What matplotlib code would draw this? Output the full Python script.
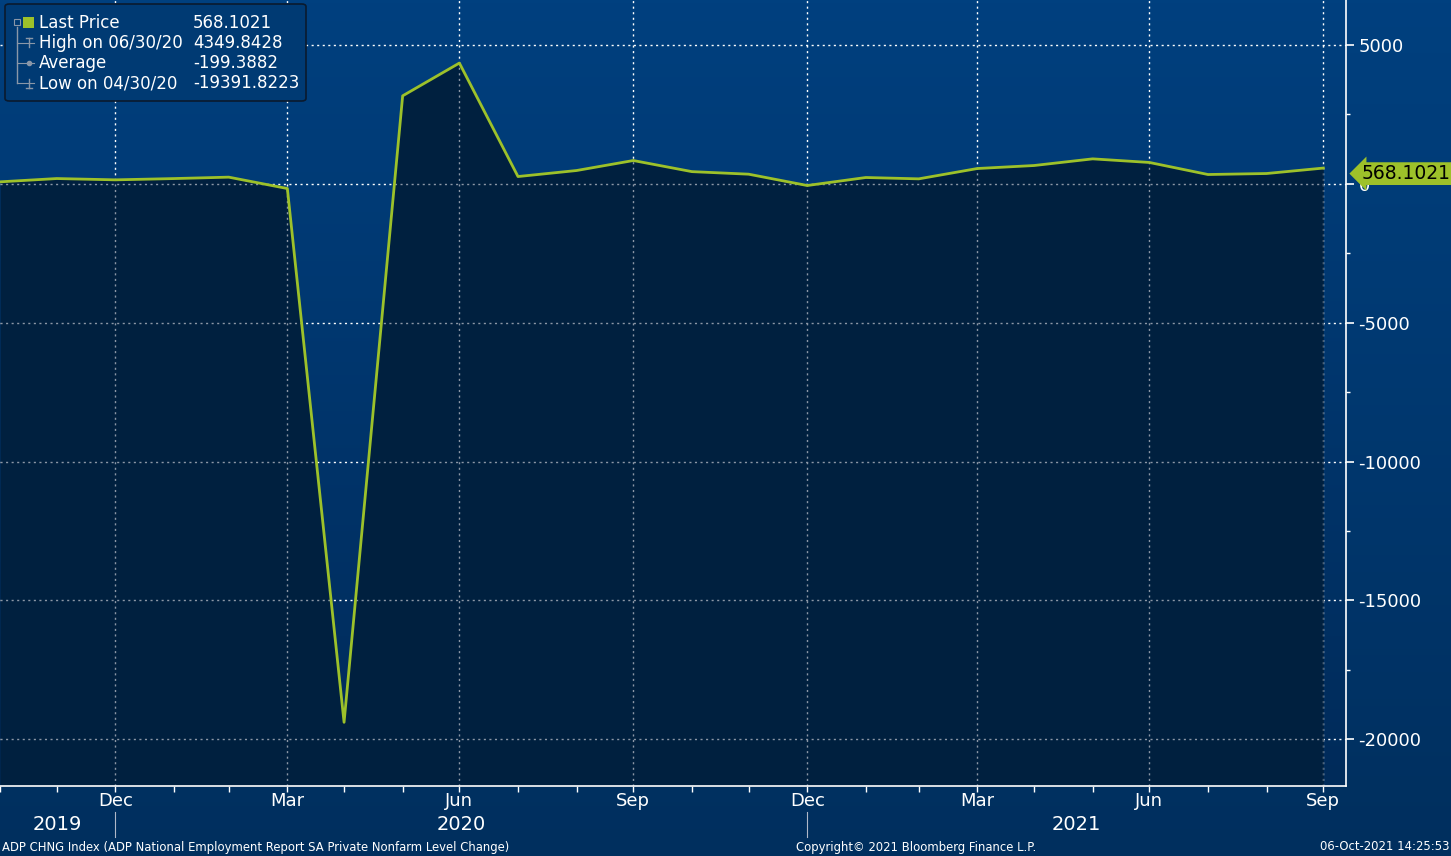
import numpy as np
import pandas as pd
import matplotlib
matplotlib.use("Agg")
import matplotlib.pyplot as plt
import matplotlib.dates as mdates
import matplotlib.transforms as mtransforms
from matplotlib.colors import LinearSegmentedColormap
from matplotlib.patches import FancyBboxPatch
from matplotlib.lines import Line2D
from matplotlib.ticker import MultipleLocator

plt.rcParams['font.family'] = ['DejaVu Sans']
plt.rcParams['axes.unicode_minus'] = False

# --- DATA (ADP CHNG, thousands, month-end) ---
months = pd.date_range("2019-10-31", "2021-09-30", freq="ME")
values = [72, 191, 144, 190, 241, -169, -19392, 3170, 4350, 263, 480, 840,
          440, 348, -60, 228, 180, 552, 660, 900, 770, 336, 372, 568.1021]
legend_names = ["Last Price", "High on 06/30/20", "Average", "Low on 04/30/20"]
legend_values = ["568.1021", "4349.8428", "-199.3882", "-19391.8223"]
y_ticks = [-20000, -15000, -10000, -5000, 0, 5000]
footer_left = "ADP CHNG Index (ADP National Employment Report SA Private Nonfarm Level Change)"
footer_mid = "Copyright\u00a9 2021 Bloomberg Finance L.P."
footer_right = "06-Oct-2021 14:25:53"

# --- COLOURS ---
BG_TOP = "#00407f"
BG_BOT = "#002b5a"
FIG_BOT = "#002f5e"
FILL = "#00203f"
LINE = "#9dc12a"

W, H = 1451, 856
fig = plt.figure(figsize=(W / 100, H / 100), dpi=100, facecolor=FIG_BOT)

def fx(px):
    return px / W

def fy(py):
    return 1 - py / H

grad = np.linspace(1, 0, 256).reshape(-1, 1)

# figure background gradient
bg_ax = fig.add_axes([0, 0, 1, 1], zorder=-10)
bg_ax.imshow(grad, aspect="auto", extent=[0, 1, 0, 1],
             cmap=LinearSegmentedColormap.from_list("figbg", [FIG_BOT, BG_TOP]))
bg_ax.set_axis_off()

ax = fig.add_axes([0, fy(786), fx(1346), 786 / H])
ax.patch.set_alpha(0)

x_left = pd.Timestamp("2019-10-31")
x_right = pd.Timestamp("2021-10-12")
y_min, y_max = -21686, 6621

ax.imshow(grad, aspect="auto", extent=[0, 1, 0, 1], transform=ax.transAxes, zorder=0,
          cmap=LinearSegmentedColormap.from_list("axbg", [BG_BOT, BG_TOP]))
ax.set_xlim(x_left, x_right)
ax.set_ylim(y_min, y_max)

# x axis months
ax.xaxis.set_major_locator(mdates.MonthLocator(bymonth=[3, 6, 9, 12], bymonthday=-1))
ax.xaxis.set_major_formatter(mdates.DateFormatter("%b"))
ax.xaxis.set_minor_locator(mdates.MonthLocator(bymonthday=-1))
ax.tick_params(axis="x", which="both", colors="white", length=4, width=1, direction="out")
ax.tick_params(axis="x", which="major", labelsize=13, pad=0)

# y axis on right
ax.yaxis.tick_right()
ax.set_yticks(y_ticks)
ax.set_yticklabels([str(v) for v in y_ticks])
ax.yaxis.set_minor_locator(MultipleLocator(2500))
ax.tick_params(axis="y", which="major", colors="white", labelsize=13, length=6, width=1.2, pad=3)
ax.tick_params(axis="y", which="minor", colors="white", length=3, width=1)

# grid under the fill (white), dimmer copy over the fill
ax.set_axisbelow(True)
ax.grid(True, which="major", color="white", linestyle=(0, (1.5, 2.5)), linewidth=1)

fill = ax.fill_between(months, values, y_min, color=FILL, linewidth=0, zorder=1)
fill_path = fill.get_paths()[0]
for yv in y_ticks:
    gl = ax.axhline(yv, color="#8c97a6", linestyle=(0, (1.5, 2.5)), linewidth=1, zorder=1.5)
    gl.set_clip_path(fill_path, fill.get_transform())
for xv in ax.get_xticks():
    gl = ax.axvline(xv, color="#8c97a6", linestyle=(0, (1.5, 2.5)), linewidth=1, zorder=1.5)
    gl.set_clip_path(fill_path, fill.get_transform())

ax.plot(months, values, color=LINE, linewidth=2, zorder=3)
ax.set_xlim(x_left, x_right)
ax.set_ylim(y_min, y_max)

# spines
for s in ["left", "top"]:
    ax.spines[s].set_visible(False)
for s in ["right", "bottom"]:
    ax.spines[s].set_color("white")
    ax.spines[s].set_linewidth(1.2)

# year labels and separators
xfig = mtransforms.blended_transform_factory(ax.transData, fig.transFigure)
years = [2019, 2020, 2021]
for yr in years:
    start = max(pd.Timestamp(f"{yr - 1}-12-31"), x_left)
    end = min(pd.Timestamp(f"{yr}-12-31"), x_right)
    mid = start + (end - start) / 2
    fig.text(mdates.date2num(mid), fy(825), str(yr), transform=xfig, ha="center", va="center",
             color="white", fontsize=14)
    if pd.Timestamp(f"{yr}-12-31") < x_right:
        ax.add_line(Line2D([pd.Timestamp(f"{yr}-12-31")] * 2, [fy(812), fy(837)], transform=xfig,
                           color="#b0b8c8", linewidth=0.8, clip_on=False))

# last price tag
ytag = mtransforms.blended_transform_factory(ax.transAxes, ax.transData)
ax.annotate(legend_values[0], xy=(1.0, values[-1]), xycoords=ytag,
            xytext=(11, -4), textcoords="offset points", ha="left", va="center",
            fontsize=13.5, color="black", zorder=6, annotation_clip=False,
            bbox=dict(boxstyle="larrow,pad=0.1", fc=LINE, ec="none"))

# legend box
box = FancyBboxPatch((fx(5), fy(101)), fx(301), 97 / H, boxstyle="round,pad=0,rounding_size=0.003",
                     transform=fig.transFigure, fc="#003a73", ec="#0a1a2e", linewidth=1.2, zorder=10)
fig.patches.append(box)
rows_y = [23, 43, 63, 83]
for i, (name, val) in enumerate(zip(legend_names, legend_values)):
    fig.text(fx(39), fy(rows_y[i]), name, color="white", fontsize=12, va="center", ha="left", zorder=11)
    fig.text(fx(193), fy(rows_y[i]), val, color="white", fontsize=12, va="center", ha="left", zorder=11)
# tree glyphs
tree = "#8a97a8"
fig.lines.append(Line2D([fx(17), fx(17)], [fy(27), fy(83)], transform=fig.transFigure, color=tree, lw=1, zorder=11))
fig.patches.append(FancyBboxPatch((fx(14), fy(25)), fx(6), 6 / H, boxstyle="square,pad=0",
                                  transform=fig.transFigure, fc="none", ec=tree, lw=0.8, zorder=11))
fig.patches.append(FancyBboxPatch((fx(23), fy(28)), fx(11), 11 / H, boxstyle="square,pad=0",
                                  transform=fig.transFigure, fc=LINE, ec="none", zorder=11))
for ry in rows_y[1:]:
    fig.lines.append(Line2D([fx(17), fx(34)], [fy(ry), fy(ry)], transform=fig.transFigure, color=tree, lw=0.8, zorder=11))
fig.lines.append(Line2D([fx(29), fx(29)], [fy(38), fy(47)], transform=fig.transFigure, color=tree, lw=1, zorder=11))
fig.lines.append(Line2D([fx(26), fx(32)], [fy(38), fy(38)], transform=fig.transFigure, color=tree, lw=1, zorder=11))
fig.lines.append(Line2D([fx(29)], [fy(63)], transform=fig.transFigure, marker="o", ms=3, color=tree, zorder=11))
fig.lines.append(Line2D([fx(29), fx(29)], [fy(79), fy(88)], transform=fig.transFigure, color=tree, lw=1, zorder=11))
fig.lines.append(Line2D([fx(26), fx(32)], [fy(88), fy(88)], transform=fig.transFigure, color=tree, lw=1, zorder=11))

# footer
fig.text(fx(2), fy(847), footer_left, color="white", fontsize=8.4, va="center", ha="left")
fig.text(fx(916), fy(847), footer_mid, color="white", fontsize=8.4, va="center", ha="center")
fig.text(fx(1449), fy(847), footer_right, color="white", fontsize=8.4, va="center", ha="right")

fig.savefig("out.png", dpi=100)
